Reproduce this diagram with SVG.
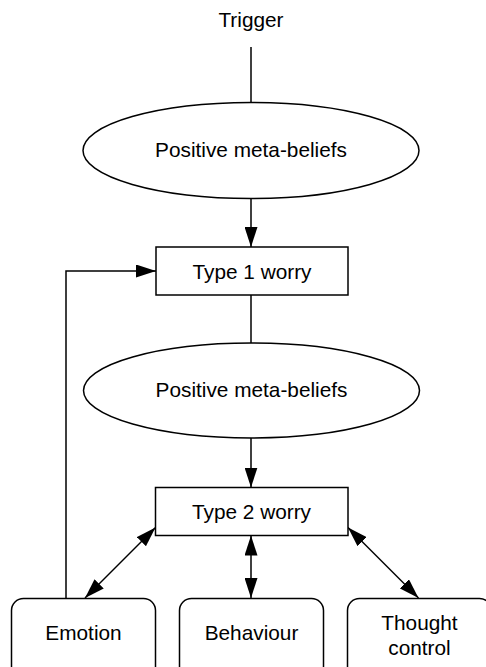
<svg xmlns="http://www.w3.org/2000/svg" width="486" height="667" viewBox="0 0 486 667">
<defs>
<style>
.s{fill:#fff;stroke:#000;stroke-width:1.5}
.t{font-family:"Liberation Sans",Arial,sans-serif;font-size:20.8px;fill:#000;text-anchor:middle}
.c{fill:none;stroke:#000;stroke-width:1.5}
</style>
<marker id="a" viewBox="0 0 20 13" refX="20" refY="6.5" markerWidth="20" markerHeight="13" markerUnits="userSpaceOnUse" orient="auto-start-reverse">
<path d="M0,0 L20,6.5 L0,13 Z" fill="#000"/>
</marker>
</defs>
<g id="connectors">
<line class="c" x1="251" y1="47" x2="251" y2="103"/>
<line class="c" x1="251" y1="199" x2="251" y2="247" marker-end="url(#a)"/>
<line class="c" x1="251" y1="295" x2="251" y2="343"/>
<line class="c" x1="251" y1="438" x2="251" y2="487.5" marker-end="url(#a)"/>
<polyline class="c" points="66,598.5 66,271 156,271" marker-end="url(#a)"/>
<line class="c" x1="155.5" y1="527.5" x2="85" y2="598" marker-start="url(#a)" marker-end="url(#a)"/>
<line class="c" x1="251" y1="535.5" x2="251" y2="598" marker-start="url(#a)" marker-end="url(#a)"/>
<line class="c" x1="348" y1="527.5" x2="418.5" y2="598" marker-start="url(#a)" marker-end="url(#a)"/>
</g>
<g id="trigger"><text class="t" x="251" y="26.7">Trigger</text></g>
<g id="pmb1"><ellipse class="s" cx="251" cy="150.5" rx="168" ry="48"/><text class="t" x="251" y="157">Positive meta-beliefs</text></g>
<g id="type1"><rect class="s" x="156" y="247" width="192" height="48"/><text class="t" x="252" y="278.5">Type 1 worry</text></g>
<g id="pmb2"><ellipse class="s" cx="251.5" cy="390.5" rx="168" ry="47.5"/><text class="t" x="251.5" y="397">Positive meta-beliefs</text></g>
<g id="type2"><rect class="s" x="155.5" y="487.5" width="192.5" height="48"/><text class="t" x="251.5" y="518.5">Type 2 worry</text></g>
<g id="emotion"><rect class="s" x="11.5" y="598.5" width="144" height="80" rx="12"/><text class="t" x="83.5" y="640">Emotion</text></g>
<g id="behaviour"><rect class="s" x="179.5" y="598.5" width="144" height="80" rx="12"/><text class="t" x="251.5" y="640">Behaviour</text></g>
<g id="thought"><rect class="s" x="347.5" y="598.5" width="144" height="80" rx="12"/><text class="t" x="419.5" y="630">Thought</text><text class="t" x="419.5" y="654.5">control</text></g>
</svg>
